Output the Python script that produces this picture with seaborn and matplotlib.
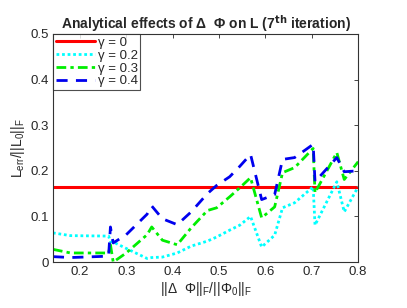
import numpy as np
import pandas as pd
import matplotlib
matplotlib.use("Agg")
import matplotlib.pyplot as plt
import seaborn as sns

x = [0.142, 0.18, 0.262, 0.266, 0.272, 0.30, 0.345, 0.355, 0.378, 0.41, 0.44, 0.475, 0.495,
     0.523, 0.545, 0.568, 0.592, 0.62, 0.637, 0.663, 0.703, 0.707, 0.754, 0.77, 0.8]
g0 = [0.165] * len(x)
g02 = [0.064, 0.058, 0.057, 0.045, 0.044, 0.030, 0.008, 0.010, 0.011, 0.020, 0.035, 0.046, 0.055,
       0.070, 0.081, 0.100, 0.033, 0.059, 0.119, 0.130, 0.165, 0.081, 0.176, 0.110, 0.165]
g03 = [0.028, 0.020, 0.020, 0.038, 0.000, 0.020, 0.060, 0.077, 0.048, 0.038, 0.075, 0.113, 0.119,
       0.143, 0.163, 0.185, 0.097, 0.121, 0.196, 0.207, 0.249, 0.152, 0.240, 0.181, 0.220]
g04 = [0.012, 0.010, 0.013, 0.077, 0.042, 0.060, 0.105, 0.123, 0.095, 0.082, 0.110, 0.150, 0.168,
       0.187, 0.210, 0.236, 0.137, 0.148, 0.225, 0.229, 0.258, 0.176, 0.229, 0.198, 0.200]
labels = ["γ = 0", "γ = 0.2", "γ = 0.3", "γ = 0.4"]
xticks = [0.2, 0.3, 0.4, 0.5, 0.6, 0.7, 0.8]
yticks = [0, 0.1, 0.2, 0.3, 0.4, 0.5]

sns.set_style("white")
plt.rcParams['font.family'] = ['Liberation Sans', 'DejaVu Sans']
plt.rcParams['mathtext.fontset'] = 'custom'
plt.rcParams['mathtext.rm'] = 'Liberation Sans'
plt.rcParams['mathtext.it'] = 'Liberation Sans:italic'

fig = plt.figure(figsize=(4.07, 3.08), dpi=100)
ax = fig.add_axes([0.130, 0.149, 0.750, 0.741])

styles = [
    dict(color="#ff0000", lw=2.2, ls="-"),
    dict(color="#00ffff", lw=2.0, ls=(0, (1, 1))),
    dict(color="#00ee00", lw=2.0, ls=(0, (3.5, 1.5, 1.2, 1.5))),
    dict(color="#0000ee", lw=2.0, ls=(0, (4, 3))),
]
for vals, lab, st in zip([g0, g02, g03, g04], labels, styles):
    df = pd.DataFrame({"x": x, "y": vals})
    sns.lineplot(data=df, x="x", y="y", ax=ax, label=lab, color=st["color"],
                 linewidth=st["lw"], linestyle=st["ls"], estimator=None, sort=False)

ax.set_xlim(0.142, 0.8)
ax.set_ylim(0, 0.5)
ax.set_xticks(xticks)
ax.set_yticks(yticks)
ax.set_xticklabels([f"{t:g}" for t in xticks])
ax.set_yticklabels([f"{t:g}" for t in yticks])
ax.tick_params(direction="in", length=3, width=0.6, labelsize=9.5, top=True, right=True,
               colors="#262626", pad=3)
for s in ax.spines.values():
    s.set_color("#333333")
    s.set_linewidth(0.8)

ax.set_title("Analytical effects of Δ  Φ on L (7$^{\\mathbf{th}}$ iteration)",
             fontsize=10, fontweight="bold", pad=4)
ax.set_xlabel("||Δ  Φ||$_\\mathrm{F}$/||Φ$_0$||$_\\mathrm{F}$", fontsize=10, labelpad=1)
ax.set_ylabel("L$_\\mathrm{err}$/||L$_0$||$_\\mathrm{F}$", fontsize=10, labelpad=2)

leg = ax.legend(loc="upper left", fontsize=9.5, frameon=True, fancybox=False,
                borderpad=0.2, labelspacing=0.05, handlelength=3.0, handletextpad=0.2,
                borderaxespad=0.0)
leg.get_frame().set_edgecolor("#222222")
leg.get_frame().set_linewidth(0.8)

fig.savefig("out.png", dpi=100)
